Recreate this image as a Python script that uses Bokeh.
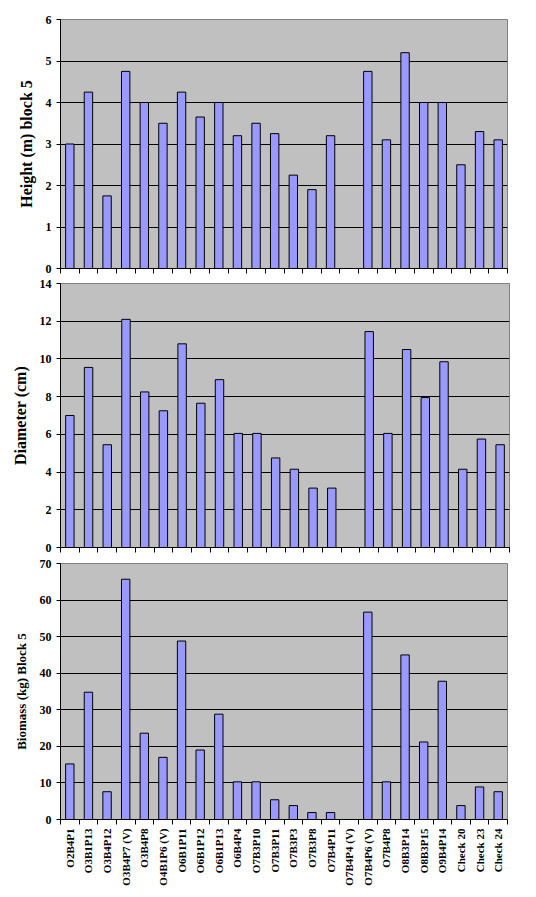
from bokeh.plotting import figure
from bokeh.layouts import column
from bokeh.models import FixedTicker, Range1d, ColumnDataSource
from bokeh.embed import file_html
from bokeh.resources import INLINE
import math

nan = float("nan")

categories = ["O2B4P1", "O3B1P13", "O3B4P12", "O3B4P7 (V)", "O3B4P8", "O4B1P6 (V)",
              "O6B1P11", "O6B1P12", "O6B1P13", "O6B4P4", "O7B3P10", "O7B3P11",
              "O7B3P3", "O7B3P8", "O7B4P11", "O7B4P4 (V)", "O7B4P6 (V)", "O7B4P8",
              "O8B3P14", "O8B3P15", "O9B4P14", "Check 20", "Check 23", "Check 24"]

height_m = [3.0, 4.25, 1.75, 4.75, 4.0, 3.5, 4.25, 3.65, 4.0, 3.2, 3.5, 3.25,
            2.25, 1.9, 3.2, nan, 4.75, 3.1, 5.2, 4.0, 4.0, 2.5, 3.3, 3.1]

diameter_cm = [7.0, 9.55, 5.45, 12.1, 8.25, 7.25, 10.8, 7.65, 8.9, 6.05, 6.05, 4.75,
               4.15, 3.15, 3.15, nan, 11.45, 6.05, 10.5, 7.95, 9.85, 4.15, 5.75, 5.45]

biomass_kg = [15.2, 34.8, 7.6, 65.7, 23.6, 17.0, 48.8, 19.0, 28.8, 10.3, 10.3, 5.4,
              3.8, 1.9, 1.9, nan, 56.7, 10.3, 45.0, 21.2, 37.8, 3.8, 8.9, 7.6]

height_ticks = [0, 1, 2, 3, 4, 5, 6]
diameter_ticks = [0, 2, 4, 6, 8, 10, 12, 14]
biomass_ticks = [0, 10, 20, 30, 40, 50, 60, 70]

FONT = "Liberation Serif"
n = len(categories)
centers = [i + 0.5 for i in range(n)]
bounds = [i for i in range(n + 1)]


def panel(values, yticks, ylabel, ylabel_size, show_labels, frame_w, frame_h,
          b_left, b_top, b_bottom, b_right):
    p = figure(x_range=Range1d(0, n), y_range=Range1d(yticks[0], yticks[-1]),
               frame_width=frame_w, frame_height=frame_h,
               min_border_left=b_left, min_border_top=b_top,
               min_border_bottom=b_bottom, min_border_right=b_right,
               output_backend="svg", toolbar_location=None)
    src = ColumnDataSource(dict(x=centers, top=values, name=categories))
    p.vbar(x="x", top="top", width=0.45, source=src,
           fill_color="#9999FF", line_color="black", line_width=1)
    p.background_fill_color = "#C0C0C0"
    p.border_fill_color = "white"
    p.outline_line_color = "#808080"
    p.outline_line_width = 1

    p.xgrid.visible = False
    p.ygrid.ticker = FixedTicker(ticks=yticks)
    p.ygrid.grid_line_color = "black"
    p.ygrid.grid_line_width = 1

    p.yaxis.ticker = FixedTicker(ticks=yticks)
    p.yaxis.minor_tick_line_color = None
    p.yaxis.major_tick_in = 0
    p.yaxis.major_tick_out = 4
    p.yaxis.axis_line_color = "black"
    p.yaxis.major_label_text_font = FONT
    p.yaxis.major_label_text_font_style = "bold"
    p.yaxis.major_label_text_font_size = "12px"
    p.yaxis.major_label_text_color = "black"
    p.yaxis.major_label_standoff = 5
    p.yaxis.axis_label = ylabel
    p.yaxis.axis_label_text_font = FONT
    p.yaxis.axis_label_text_font_style = "bold"
    p.yaxis.axis_label_text_font_size = ylabel_size
    p.yaxis.axis_label_text_color = "black"
    p.yaxis.axis_label_standoff = 8

    p.xaxis.minor_tick_in = 0
    p.xaxis.minor_tick_out = 5
    p.xaxis.minor_tick_line_color = "black"
    p.xaxis.major_tick_in = 0
    p.xaxis.major_tick_out = 0
    p.xaxis.axis_line_color = "black"
    if show_labels:
        p.xaxis.ticker = FixedTicker(ticks=centers, minor_ticks=bounds)
        p.xaxis.major_label_overrides = {c: lab for c, lab in zip(centers, categories)}
        p.xaxis.major_label_orientation = math.pi / 2
        p.xaxis.major_label_text_font = FONT
        p.xaxis.major_label_text_font_style = "bold"
        p.xaxis.major_label_text_font_size = "11px"
        p.xaxis.major_label_text_color = "black"
        p.xaxis.major_label_standoff = 4
    else:
        p.xaxis.ticker = FixedTicker(ticks=[], minor_ticks=bounds)
        p.xaxis.major_label_standoff = 0
    return p


p1 = panel(height_m, height_ticks, "Height (m) block 5", "16px", False,
           447, 249, 57, 19, 8, 16)
p2 = panel(diameter_cm, diameter_ticks, "Diameter (cm)", "16px", False,
           449, 264, 58, 7, 9, 12)
p3 = panel(biomass_kg, biomass_ticks, "Biomass (kg) Block 5", "13px", True,
           447, 256, 60, 7, 62, 12)

layout = column(p1, p2, p3, spacing=0)
open("out.html", "w").write(file_html(layout, INLINE))
